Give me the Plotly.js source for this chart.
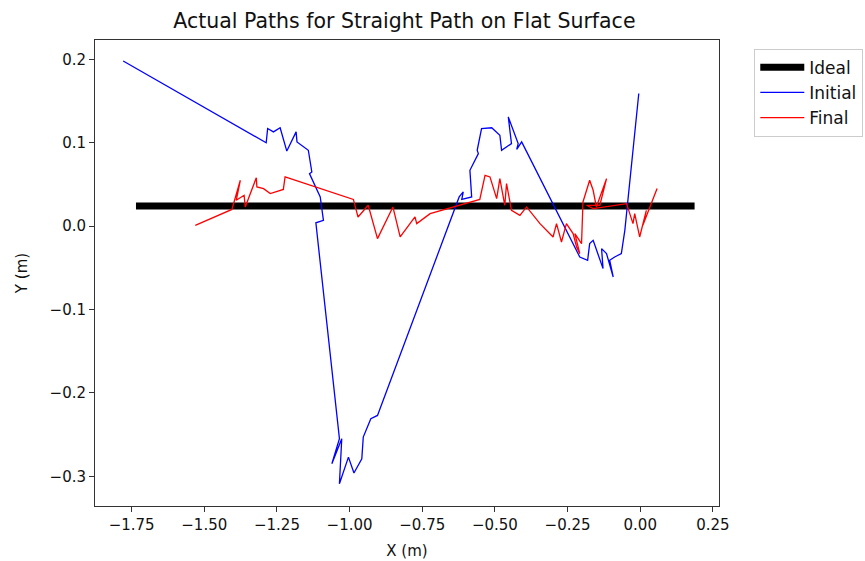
<!DOCTYPE html>
<html>
<head>
<meta charset="utf-8">
<script src="https://cdn.plot.ly/plotly-3.0.1.min.js"></script>
<style>html,body{margin:0;padding:0;background:#fff;}#chart{width:865px;height:561px;}</style>
</head>
<body>
<div id="chart"></div>
<script>
var idealX = [-1.735, 0.187];
var idealY = [0.024, 0.024];

var initialX = [-1.779, -1.287, -1.282, -1.262, -1.239, -1.216, -1.184, -1.181, -1.142, -1.130, -1.138, -1.101, -1.090, -1.116,
  -1.035, -1.061, -1.027, -1.035, -1.004, -0.985, -0.958, -0.953, -0.927, -0.904,
  -0.623, -0.609, -0.614, -0.580, -0.586, -0.557, -0.561, -0.546, -0.511, -0.483, -0.477, -0.443, -0.454, -0.420, -0.425, -0.408,
  -0.208, -0.181, -0.174, -0.162, -0.156, -0.128, -0.133, -0.116, -0.093, -0.105, -0.088, -0.065, -0.053, -0.042, -0.005];
var initialY = [0.198, 0.100, 0.117, 0.113, 0.118, 0.090, 0.113, 0.101, 0.091, 0.065, 0.063, 0.035, 0.007, 0.004,
  -0.255, -0.285, -0.255, -0.309, -0.277, -0.296, -0.279, -0.253, -0.231, -0.227,
  0.035, 0.041, 0.032, 0.035, 0.067, 0.087, 0.091, 0.117, 0.118, 0.109, 0.091, 0.099, 0.131, 0.099, 0.092, 0.101,
  -0.037, -0.041, -0.021, -0.017, -0.023, -0.051, -0.027, -0.033, -0.061, -0.041, -0.037, -0.033, -0.005, 0.031, 0.159];

var finalX = [-1.531, -1.405, -1.376, -1.390, -1.363, -1.359, -1.321, -1.319, -1.296, -1.273, -1.228, -1.222,
  -0.987, -0.971, -0.936, -0.904, -0.851, -0.826, -0.775, -0.769, -0.723,
  -0.552, -0.534, -0.517, -0.494, -0.483, -0.466, -0.460, -0.443, -0.414, -0.391,
  -0.345, -0.300, -0.288, -0.271, -0.254, -0.231, -0.219, -0.208, -0.225, -0.202,
  -0.197, -0.174, -0.162, -0.151, -0.116, -0.139, -0.185, -0.162,
  -0.047, -0.025, -0.019, -0.002, 0.021, 0.009, 0.058];
var finalY = [0.001, 0.020, 0.055, 0.031, 0.037, 0.023, 0.058, 0.047, 0.045, 0.039, 0.044, 0.059,
  0.032, 0.011, 0.025, -0.015, 0.023, -0.013, 0.011, 0.003, 0.015,
  0.032, 0.061, 0.059, 0.033, 0.057, 0.025, 0.051, 0.019, 0.013, 0.023,
  0.003, -0.013, 0.003, -0.019, 0.003, -0.009, -0.025, -0.033, -0.009, -0.021,
  0.029, 0.055, 0.043, 0.023, 0.057, 0.025, 0.025, 0.021,
  0.027, 0.003, 0.015, -0.013, 0.019, 0.001, 0.045];

var traces = [
  {x: idealX, y: idealY, mode: 'lines', name: 'Ideal', line: {color: '#000000', width: 7}},
  {x: initialX, y: initialY, mode: 'lines', name: 'Initial', line: {color: '#0000ff', width: 1.3}},
  {x: finalX, y: finalY, mode: 'lines', name: 'Final', line: {color: '#ff0000', width: 1.3}}
];

var axisCommon = {
  showgrid: false, zeroline: false, showline: true, mirror: true,
  linecolor: '#333333', linewidth: 1,
  ticks: 'outside', ticklen: 5, tickcolor: '#333333', tickwidth: 1,
  tickfont: {family: 'DejaVu Sans', size: 15, color: '#111'}
};

var layout = {
  width: 865, height: 561,
  margin: {l: 95, r: 146, t: 40, b: 55},
  paper_bgcolor: '#ffffff', plot_bgcolor: '#ffffff',
  font: {family: 'DejaVu Sans', color: '#111'},
  title: {text: 'Actual Paths for Straight Path on Flat Surface', font: {family: 'DejaVu Sans', size: 20.5, color: '#111'},
          x: 0.4675, xanchor: 'center', y: 0.962, yanchor: 'middle'},
  xaxis: Object.assign({}, axisCommon, {
    range: [-1.876, 0.271], tickmode: 'linear', tick0: -1.75, dtick: 0.25, tickformat: '.2f',
    title: {text: 'X (m)', font: {family: 'DejaVu Sans', size: 15, color: '#111'}, standoff: 12}
  }),
  yaxis: Object.assign({}, axisCommon, {
    range: [-0.3356, 0.2232], tickmode: 'linear', tick0: 0, dtick: 0.1, tickformat: '.1f',
    title: {text: 'Y (m)', font: {family: 'DejaVu Sans', size: 15, color: '#111'}, standoff: 18}
  }),
  showlegend: true,
  legend: {xref: 'container', yref: 'container', x: 0.872, y: 0.913, xanchor: 'left', yanchor: 'top',
    bordercolor: '#cccccc', borderwidth: 1, bgcolor: '#ffffff',
    font: {family: 'DejaVu Sans', size: 17, color: '#111'}, tracegroupgap: 0, itemwidth: 44}
};

Plotly.newPlot('chart', traces, layout, {displayModeBar: false, staticPlot: true});
</script>
</body>
</html>
